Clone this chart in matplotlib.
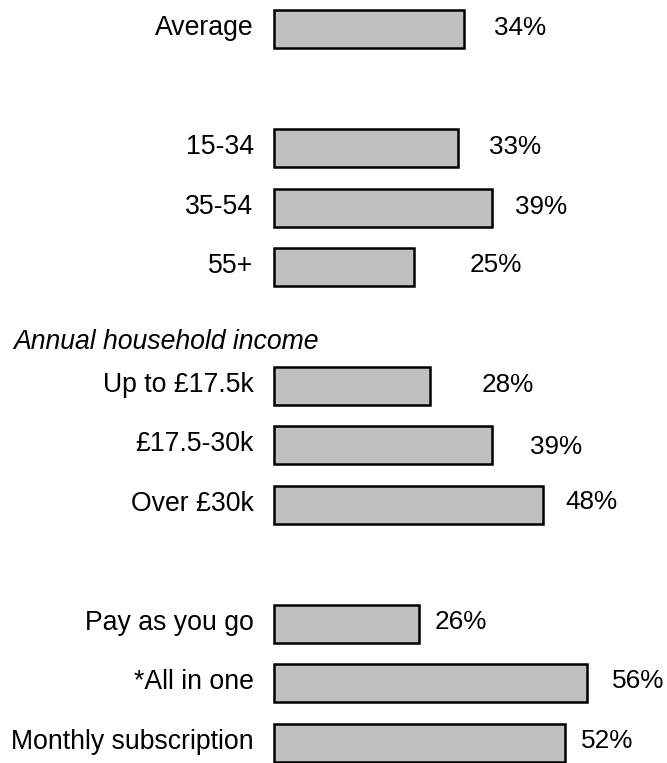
import matplotlib
matplotlib.use("Agg")
import matplotlib.pyplot as plt

plt.rcParams['font.family'] = ['Liberation Sans', 'DejaVu Sans']

# Categories and their shares (%)
categories = ["Average", "15-34", "35-54", "55+",
              "Up to £17.5k", "£17.5-30k", "Over £30k",
              "Pay as you go", "*All in one", "Monthly subscription"]
values = [34, 33, 39, 25, 28, 39, 48, 26, 56, 52]
# Row slot of each bar (gaps separate the groups)
slots = [0, 2, 3, 4, 6, 7, 8, 10, 11, 12]
group_title = "Annual household income"

# Label placement tweaks (pixels to the right of bar end, vertical nudge)
label_dx = [30, 31, 23, 56, 51, 38, 23, 15, 25, 16]
label_dy = [1, 1, 1, 2, 1, -2, 3, 2, 2, 2]

W, H, DPI = 667, 763, 100
fig = plt.figure(figsize=(W / DPI, H / DPI), dpi=DPI)

left_px, slot_px = 273.5, 59.5
ax = fig.add_axes([left_px / W, 0, (W - left_px) / W, 1])
px_per_unit = 5.605
ax.set_xlim(0, (W - left_px) / px_per_unit)
ax.set_ylim(12 + 20 / slot_px, -29 / slot_px)
ax.axis("off")

bars = ax.barh(slots, values, height=38 / slot_px, color="#c0c0c0",
               edgecolor="black", linewidth=1.8)
for b in bars:
    b.set_clip_on(False)

pt = 72 / DPI
fs_cat = 19.2
fs_val = 18.8
for cat, v, s, dx, dy in zip(categories, values, slots, label_dx, label_dy):
    ax.annotate(cat, xy=(0, s), xytext=(-20 * pt, 1 * pt),
                textcoords="offset points", ha="right", va="center",
                fontsize=fs_cat, color="black", annotation_clip=False)
    ax.annotate(f"{v}%", xy=(v, s), xytext=(dx * pt, dy * pt),
                textcoords="offset points", ha="left", va="center",
                fontsize=fs_val, color="black", annotation_clip=False)

fig.text(13 / W, 1 - 342 / H, group_title, style="italic",
         fontsize=fs_cat, ha="left", va="center", color="black")

fig.savefig("out.png", dpi=DPI)
